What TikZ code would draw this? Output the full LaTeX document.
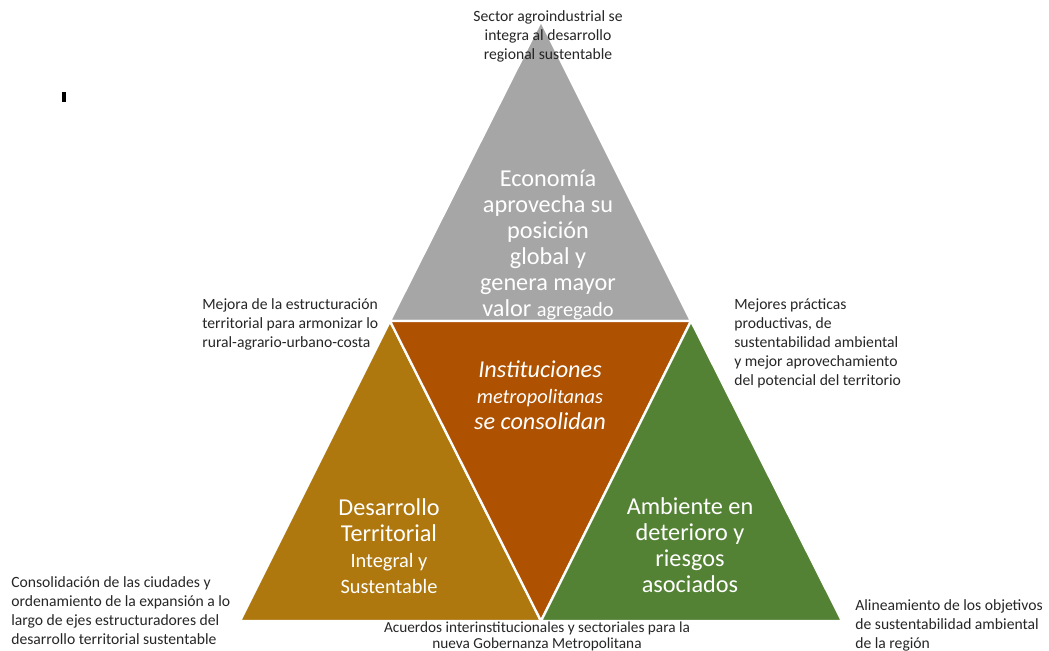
\documentclass[tikz,border=0pt]{standalone}
\usepackage{fontspec}
\setmainfont{Carlito}
\usepackage{tikz}
\usetikzlibrary{positioning}
\definecolor{grisT}{HTML}{A6A6A6}
\definecolor{cafeT}{HTML}{AE5100}
\definecolor{oroT}{HTML}{AE780F}
\definecolor{verdeT}{HTML}{548235}
\definecolor{notaT}{HTML}{262626}
\tikzset{
  tri/.style   = {draw=white, line width=1.3pt, line join=miter},
  big/.style   = {align=center, text=white, inner sep=0pt,
                  font=\fontsize{13.8}{14.8}\selectfont},
  nota/.style  = {align=left, text=notaT, inner sep=0pt,
                  font=\fontsize{8.9}{10.8}\selectfont},
  notac/.style = {nota, align=center},
}
\newcommand{\chico}{\fontsize{11.6}{14.8}\selectfont}

\begin{document}
\begin{tikzpicture}[x=0.02cm, y=-0.02cm]
\useasboundingbox (0,0) rectangle (1049,651);
\coordinate (apex) at (541,21);
\coordinate (izq)  at (390,321);
\coordinate (der)  at (691,321);
\coordinate (bizq) at (240,621);
\coordinate (bmed) at (541,621);
\coordinate (bder) at (842,621);
\fill[black] (62,92) rectangle (66,102);
\filldraw[tri, fill=grisT]  (apex) -- (izq) -- (der) -- cycle;
\filldraw[tri, fill=oroT]   (izq) -- (bizq) -- (bmed) -- cycle;
\filldraw[tri, fill=cafeT]  (izq) -- (der) -- (bmed) -- cycle;
\filldraw[tri, fill=verdeT] (der) -- (bmed) -- (bder) -- cycle;
\node[notac] (sector) at (548,36)
     {Sector agroindustrial se\\integra al desarrollo\\regional sustentable};
\node[big] (econ) at (548,245)
     {Economía\\aprovecha su\\posición\\global y\\genera mayor\\valor {\chico agregado}};
\node[big, font=\fontsize{13.8}{14.8}\selectfont\itshape] (inst) at (540,395)
     {Instituciones\\{\chico metropolitanas}\\se consolidan};
\node[big] (desa) at (389,546)
     {Desarrollo\\Territorial\\{\chico Integral y}\\{\chico Sustentable}};
\node[big] (amb) at (690,545)
     {Ambiente en\\deterioro y\\riesgos\\asociados};
\node[nota, anchor=west] (mejora) at (202,324)
     {Mejora de la estructuración\\territorial para armonizar lo\\rural-agrario-urbano-costa};
\node[nota, anchor=west] (practicas) at (734,343)
     {Mejores prácticas\\productivas, de\\sustentabilidad ambiental\\y mejor aprovechamiento\\del potencial del territorio};
\node[nota, anchor=west] (consol) at (11,611)
     {Consolidación de las ciudades y\\ordenamiento de la expansión a lo\\largo de ejes estructuradores del\\desarrollo territorial sustentable};
\node[notac, font=\fontsize{8.7}{8.9}\selectfont] (acuerdos) at (537,636.5)
     {Acuerdos interinstitucionales y sectoriales para la\\nueva Gobernanza Metropolitana};
\node[nota, anchor=west] (alinea) at (855,625)
     {Alineamiento de los objetivos\\de sustentabilidad ambiental\\de la región};
\end{tikzpicture}
\end{document}
